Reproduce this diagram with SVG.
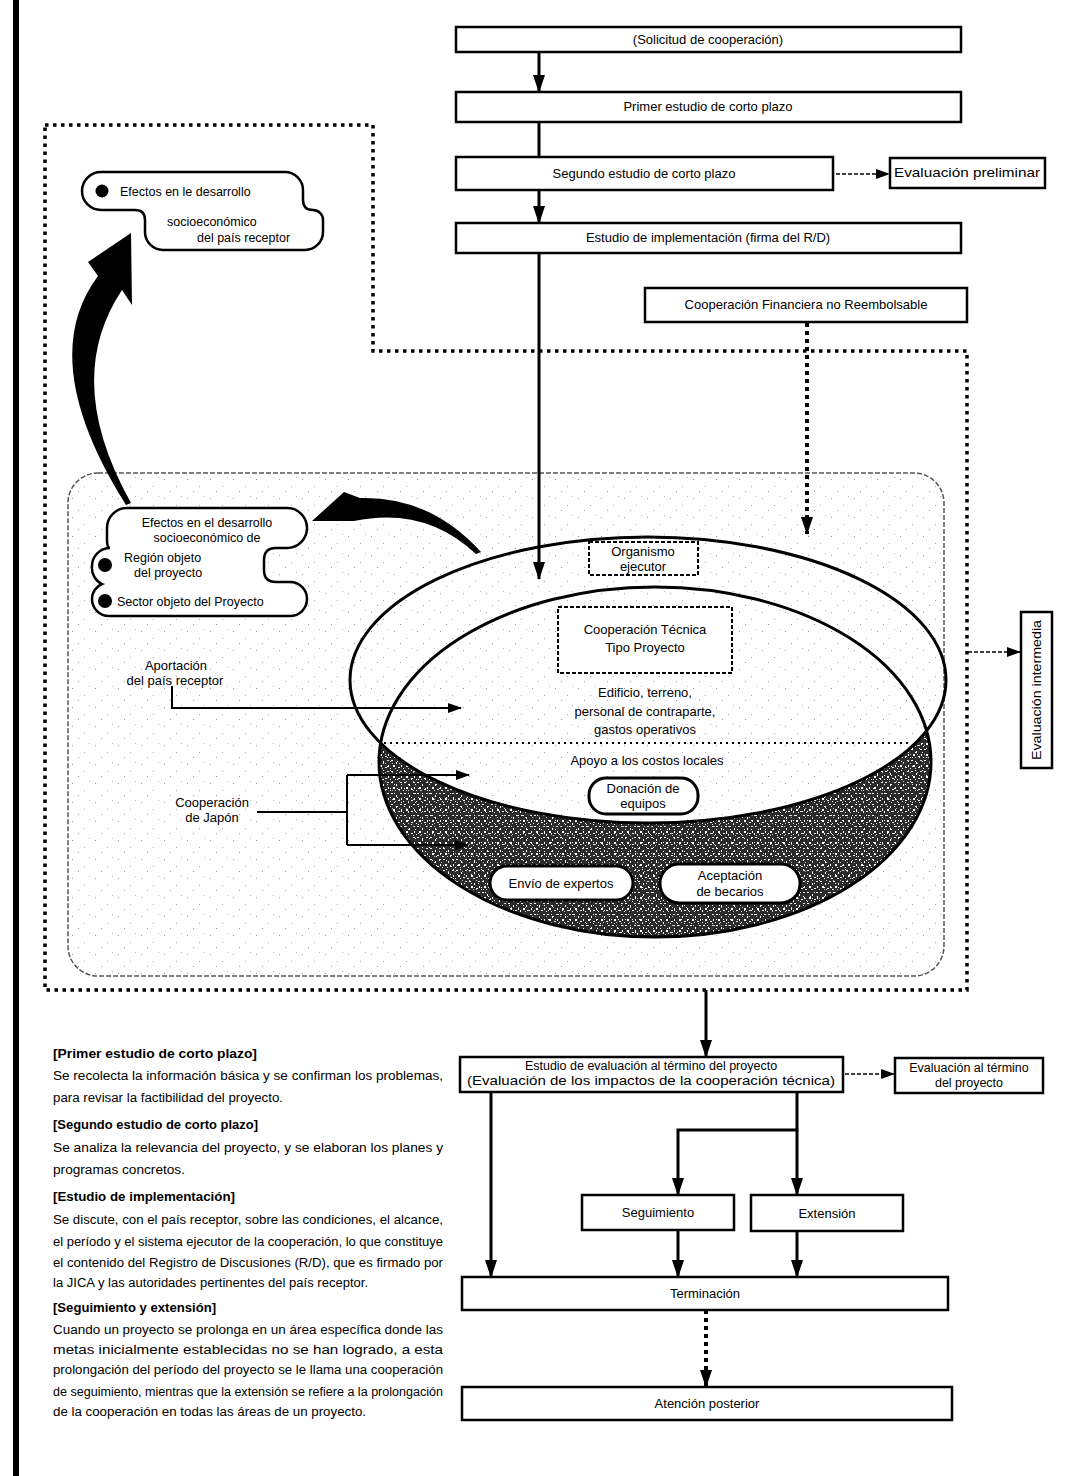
<svg xmlns="http://www.w3.org/2000/svg" width="1065" height="1476" viewBox="0 0 1065 1476">
<style>
  text { font-family: "Liberation Sans", Arial, sans-serif; fill: #000; }
  .lbl { font-size: 13px; text-anchor: middle; }
  .sm { font-size: 12.5px; }
  .box { fill: #fff; stroke: #000; stroke-width: 2.5; }
  .dbox { fill: #fff; stroke: #000; stroke-width: 2; stroke-dasharray: 4 2; }
  .rbox { fill: #fff; stroke: #000; stroke-width: 3; }
  .ln { fill: none; stroke: #000; stroke-width: 2; }
  .thick { fill: none; stroke: #000; stroke-width: 3; }
  .dash { fill: none; stroke: #000; stroke-width: 1.5; stroke-dasharray: 4 2; }
  .dot { fill: none; stroke: #000; stroke-width: 3.5; stroke-dasharray: 3.5 4.5; }
  .body { font-size: 12px; }
  .head { font-size: 12px; font-weight: bold; }
</style>
<defs>
  <marker id="arr" viewBox="0 0 14 10" refX="13" refY="5" markerWidth="14" markerHeight="10" markerUnits="userSpaceOnUse" orient="auto">
    <path d="M0 0 L14 5 L0 10 Z" fill="#000"/>
  </marker>
  <marker id="arrL" viewBox="0 0 18 12" refX="17" refY="6" markerWidth="18" markerHeight="12" markerUnits="userSpaceOnUse" orient="auto">
    <path d="M0 0 L18 6 L0 12 Z" fill="#000"/>
  </marker>
  <pattern id="grain" width="13" height="11" patternUnits="userSpaceOnUse">
    <rect width="13" height="11" fill="#2b2b2b"/>
    <rect x="1" y="1" width="2" height="1" fill="#fff"/>
    <rect x="6" y="3" width="1" height="2" fill="#fff"/>
    <rect x="10" y="1" width="2" height="1" fill="#ddd"/>
    <rect x="3" y="6" width="2" height="2" fill="#fff"/>
    <rect x="8" y="8" width="2" height="1" fill="#eee"/>
    <rect x="11" y="6" width="1" height="2" fill="#fff"/>
    <rect x="0" y="9" width="1" height="1" fill="#fff"/>
    <rect x="5" y="9" width="1" height="1" fill="#ccc"/>
  </pattern>
  <pattern id="grain2" width="7" height="9" patternUnits="userSpaceOnUse">
    <rect x="2" y="1" width="1" height="1" fill="#fff"/>
    <rect x="5" y="5" width="1" height="1" fill="#fff"/>
    <rect x="0" y="7" width="1" height="1" fill="#bbb"/>
  </pattern>
  <pattern id="speck" width="23" height="19" patternUnits="userSpaceOnUse">
    <rect x="3" y="4" width="1" height="1" fill="#999"/>
    <rect x="15" y="11" width="1" height="1" fill="#aaa"/>
    <rect x="9" y="16" width="1" height="1" fill="#999"/>
    <rect x="20" y="2" width="1" height="1" fill="#bbb"/>
  </pattern>
  <clipPath id="clipB">
    <ellipse cx="655" cy="762" rx="276" ry="175"/>
  </clipPath>
</defs>

<!-- left border bar -->
<rect x="13" y="0" width="6" height="1476" fill="#000"/>

<!-- big dotted boundary -->
<path class="dot" d="M45 125 H373 V351 H967 V990 H45 Z"/>

<!-- inner rounded frame -->
<rect x="68" y="473" width="876" height="503" rx="30" fill="url(#speck)" stroke="#555" stroke-width="1.5" stroke-dasharray="5 2"/>

<!-- ellipses / bowl -->
<g id="bowl">
  <ellipse cx="648" cy="680" rx="298" ry="143" fill="url(#speck)"/>
  <path clip-path="url(#clipB)" fill-rule="evenodd" fill="url(#grain)" d="M300 500 H1000 V1000 H300 Z M350 680 a298 143 0 1 0 596 0 a298 143 0 1 0 -596 0 Z"/>
  <path clip-path="url(#clipB)" fill-rule="evenodd" fill="url(#grain2)" d="M300 500 H1000 V1000 H300 Z M350 680 a298 143 0 1 0 596 0 a298 143 0 1 0 -596 0 Z"/>
  <ellipse cx="648" cy="680" rx="298" ry="143" fill="none" stroke="#000" stroke-width="3"/>
  <ellipse cx="655" cy="762" rx="276" ry="175" fill="none" stroke="#000" stroke-width="3"/>
  <line x1="384" y1="743" x2="912" y2="743" stroke="#000" stroke-width="2" stroke-dasharray="2 4"/>
</g>

<!-- connectors -->
<g id="connectors">
  <line class="thick" x1="539" y1="52" x2="539" y2="92" marker-end="url(#arrL)"/>
  <line class="thick" x1="539" y1="122" x2="539" y2="157"/>
  <line class="thick" x1="539" y1="190" x2="539" y2="223" marker-end="url(#arrL)"/>
  <line class="dash" x1="836" y1="174" x2="889" y2="174" marker-end="url(#arr)"/>
  <line class="thick" x1="539" y1="253" x2="539" y2="579" marker-end="url(#arrL)"/>
  <line fill="none" stroke="#000" stroke-width="4" stroke-dasharray="4 4" x1="807" y1="323" x2="807" y2="534" marker-end="url(#arrL)"/>
  <line class="dash" x1="968" y1="652" x2="1020" y2="652" marker-end="url(#arr)"/>
  <path class="ln" d="M172 686 V708 H461" marker-end="url(#arr)"/>
  <path class="ln" d="M257 812 H347"/>
  <path class="ln" d="M347 775 V845"/>
  <path class="ln" d="M347 775 H469" marker-end="url(#arr)"/>
  <path class="ln" d="M347 845 H468" marker-end="url(#arr)"/>
  <line class="thick" x1="706" y1="990" x2="706" y2="1057" marker-end="url(#arrL)"/>
  <line class="dash" x1="845" y1="1074" x2="894" y2="1074" marker-end="url(#arr)"/>
  <line class="thick" x1="491" y1="1092" x2="491" y2="1277" marker-end="url(#arrL)"/>
  <path class="thick" d="M797 1092 V1130 H678 V1195" marker-end="url(#arrL)"/>
  <line class="thick" x1="797" y1="1130" x2="797" y2="1195" marker-end="url(#arrL)"/>
  <line class="thick" x1="678" y1="1230" x2="678" y2="1277" marker-end="url(#arrL)"/>
  <line class="thick" x1="797" y1="1231" x2="797" y2="1277" marker-end="url(#arrL)"/>
  <line fill="none" stroke="#000" stroke-width="4" stroke-dasharray="4 4" x1="706" y1="1310" x2="706" y2="1387" marker-end="url(#arrL)"/>
  <!-- big curved arrows -->
  <path fill="#000" d="M126 505 Q35 360 98 276 L88 262 L131 233 L132 305 L122 290 Q62 380 131 503 Z"/>
  <path fill="#000" d="M481 552 Q430 496 360 498 L344 492 L312 521 L354 521 Q425 506 476 554 Z"/>
</g>

<!-- top flow boxes -->
<g id="n-solicitud"><rect class="box" x="456" y="27" width="505" height="25"/><text class="lbl" x="708" y="44">(Solicitud de cooperación)</text></g>
<g id="n-primer"><rect class="box" x="456" y="92" width="505" height="30"/><text class="lbl" x="708" y="111">Primer estudio de corto plazo</text></g>
<g id="n-segundo"><rect class="box" x="456" y="157" width="377" height="33"/><text class="lbl" x="644" y="178">Segundo estudio de corto plazo</text></g>
<g id="n-prelim"><rect class="box" x="890" y="158" width="155" height="30"/><text class="lbl" x="967" y="177" textLength="146" lengthAdjust="spacingAndGlyphs">Evaluación preliminar</text></g>
<g id="n-implem"><rect class="box" x="456" y="223" width="505" height="30"/><text class="lbl" x="708" y="242">Estudio de implementación (firma del R/D)</text></g>
<g id="n-coopfin"><rect class="box" x="645" y="288" width="322" height="34"/><text class="lbl" x="806" y="309">Cooperación Financiera no Reembolsable</text></g>

<!-- effects bubble top-left -->
<g id="n-efectos-pais">
  <path fill="#fff" stroke="#000" stroke-width="2.5" d="M101 172 H285 A18 18 0 0 1 303 190 V200 Q303 210 313 210 A10 10 0 0 1 323 220 V232 A18 18 0 0 1 305 250 H163 A18 18 0 0 1 145 232 V220 Q145 210 135 210 H101 A19 19 0 0 1 82 191 A19 19 0 0 1 101 172 Z"/>
  <circle cx="102" cy="191" r="6.5" fill="#000"/>
  <text class="sm" x="120" y="196">Efectos en le desarrollo</text>
  <text class="sm" x="167" y="226">socioeconómico</text>
  <text class="sm" x="197" y="242">del país receptor</text>
</g>

<!-- effects bubble left-middle -->
<g id="n-efectos-region">
  <path fill="#fff" stroke="#000" stroke-width="2.5" d="M127 508 H287 A20 20 0 0 1 307 528 A20 20 0 0 1 287 548 H276 Q264 548 264 560 V570 Q264 582 276 582 H290 A17 17 0 0 1 307 599 A17 17 0 0 1 290 616 H109 A17 17 0 0 1 92 599 A16 16 0 0 1 102 584 A18 18 0 0 1 92 566 A18 18 0 0 1 110 548 Q107 548 107 540 V528 A20 20 0 0 1 127 508 Z"/>
  <text class="sm" x="207" y="527" text-anchor="middle">Efectos en el desarrollo</text>
  <text class="sm" x="207" y="542" text-anchor="middle">socioeconómico de</text>
  <circle cx="105" cy="565" r="7" fill="#000"/>
  <text class="sm" x="124" y="562">Región objeto</text>
  <text class="sm" x="134" y="577">del proyecto</text>
  <circle cx="105" cy="601" r="7" fill="#000"/>
  <text class="sm" x="117" y="606">Sector objeto del Proyecto</text>
</g>

<!-- inside bowl -->
<g id="n-organismo"><rect class="dbox" x="589" y="542" width="109" height="33"/><text class="lbl" x="643" y="556">Organismo</text><text class="lbl" x="643" y="571">ejecutor</text></g>
<g id="n-cooptec"><rect class="dbox" x="558" y="607" width="174" height="66"/><text class="lbl" x="645" y="634">Cooperación Técnica</text><text class="lbl" x="645" y="652">Tipo Proyecto</text></g>
<g id="n-edificio">
  <text class="lbl" x="645" y="697">Edificio, terreno,</text>
  <text class="lbl" x="645" y="716">personal de contraparte,</text>
  <text class="lbl" x="645" y="734">gastos operativos</text>
</g>
<g id="n-apoyo"><text class="lbl" x="647" y="765">Apoyo a los costos locales</text></g>
<g id="n-donacion"><rect class="rbox" x="589" y="778" width="109" height="36" rx="17"/><text class="lbl" x="643" y="793">Donación de</text><text class="lbl" x="643" y="808">equipos</text></g>
<g id="n-envio"><rect class="rbox" x="490" y="866" width="143" height="34" rx="17"/><text class="lbl" x="561" y="888">Envío de expertos</text></g>
<g id="n-aceptacion"><rect class="rbox" x="660" y="864" width="140" height="39" rx="19"/><text class="lbl" x="730" y="880">Aceptación</text><text class="lbl" x="730" y="896">de becarios</text></g>

<!-- left labels -->
<g id="n-aportacion"><text class="lbl" x="176" y="670">Aportación</text><text class="lbl" x="175" y="685">del país receptor</text></g>
<g id="n-japon"><text class="lbl" x="212" y="807">Cooperación</text><text class="lbl" x="212" y="822">de Japón</text></g>

<!-- intermediate evaluation -->
<g id="n-intermedia"><rect class="box" x="1021" y="612" width="31" height="156"/><text class="lbl" transform="translate(1041 690) rotate(-90)" x="0" y="0" textLength="140" lengthAdjust="spacingAndGlyphs">Evaluación intermedia</text></g>

<!-- bottom flow -->
<g id="n-evalfin"><rect class="box" x="460" y="1057" width="383" height="35"/><text class="sm" x="651" y="1070" text-anchor="middle">Estudio de evaluación al término del proyecto</text><text class="sm" x="651" y="1085" text-anchor="middle" textLength="368" lengthAdjust="spacingAndGlyphs">(Evaluación de los impactos de la cooperación técnica)</text></g>
<g id="n-evaltermino"><rect class="box" x="895" y="1058" width="148" height="35"/><text class="sm" x="969" y="1072" text-anchor="middle">Evaluación al término</text><text class="sm" x="969" y="1087" text-anchor="middle">del proyecto</text></g>
<g id="n-seguimiento"><rect class="box" x="582" y="1195" width="152" height="35"/><text class="lbl" x="658" y="1217">Seguimiento</text></g>
<g id="n-extension"><rect class="box" x="751" y="1195" width="152" height="36"/><text class="lbl" x="827" y="1218">Extensión</text></g>
<g id="n-terminacion"><rect class="box" x="462" y="1277" width="486" height="33"/><text class="lbl" x="705" y="1298">Terminación</text></g>
<g id="n-atencion"><rect class="box" x="462" y="1387" width="490" height="33"/><text class="lbl" x="707" y="1408">Atención posterior</text></g>

<!-- explanatory text -->
<g id="notes">
  <text class="head" x="53" y="1058" textLength="204" lengthAdjust="spacingAndGlyphs">[Primer estudio de corto plazo]</text>
  <text class="body" x="53" y="1080" textLength="390" lengthAdjust="spacingAndGlyphs">Se recolecta la información básica y se confirman los problemas,</text>
  <text class="body" x="53" y="1102" textLength="230" lengthAdjust="spacingAndGlyphs">para revisar la factibilidad del proyecto.</text>
  <text class="head" x="53" y="1129" textLength="205" lengthAdjust="spacingAndGlyphs">[Segundo estudio de corto plazo]</text>
  <text class="body" x="53" y="1152" textLength="390" lengthAdjust="spacingAndGlyphs">Se analiza la relevancia del proyecto, y se elaboran los planes y</text>
  <text class="body" x="53" y="1174" textLength="132" lengthAdjust="spacingAndGlyphs">programas concretos.</text>
  <text class="head" x="53" y="1201" textLength="182" lengthAdjust="spacingAndGlyphs">[Estudio de implementación]</text>
  <text class="body" x="53" y="1224" textLength="390" lengthAdjust="spacingAndGlyphs">Se discute, con el país receptor, sobre las condiciones, el alcance,</text>
  <text class="body" x="53" y="1246" textLength="390" lengthAdjust="spacingAndGlyphs">el período y el sistema ejecutor de la cooperación, lo que constituye</text>
  <text class="body" x="53" y="1267" textLength="390" lengthAdjust="spacingAndGlyphs">el contenido del Registro de Discusiones (R/D), que es firmado por</text>
  <text class="body" x="53" y="1287" textLength="315" lengthAdjust="spacingAndGlyphs">la JICA y las autoridades pertinentes del país receptor.</text>
  <text class="head" x="53" y="1312" textLength="163" lengthAdjust="spacingAndGlyphs">[Seguimiento y extensión]</text>
  <text class="body" x="53" y="1334" textLength="390" lengthAdjust="spacingAndGlyphs">Cuando un proyecto se prolonga en un área específica donde las</text>
  <text class="body" x="53" y="1354" textLength="390" lengthAdjust="spacingAndGlyphs">metas inicialmente establecidas no se han logrado, a esta</text>
  <text class="body" x="53" y="1374" textLength="390" lengthAdjust="spacingAndGlyphs">prolongación del período del proyecto se le llama una cooperación</text>
  <text class="body" x="53" y="1396" textLength="390" lengthAdjust="spacingAndGlyphs">de seguimiento, mientras que la extensión se refiere a la prolongación</text>
  <text class="body" x="53" y="1416" textLength="313" lengthAdjust="spacingAndGlyphs">de la cooperación en todas las áreas de un proyecto.</text>
</g>
</svg>
